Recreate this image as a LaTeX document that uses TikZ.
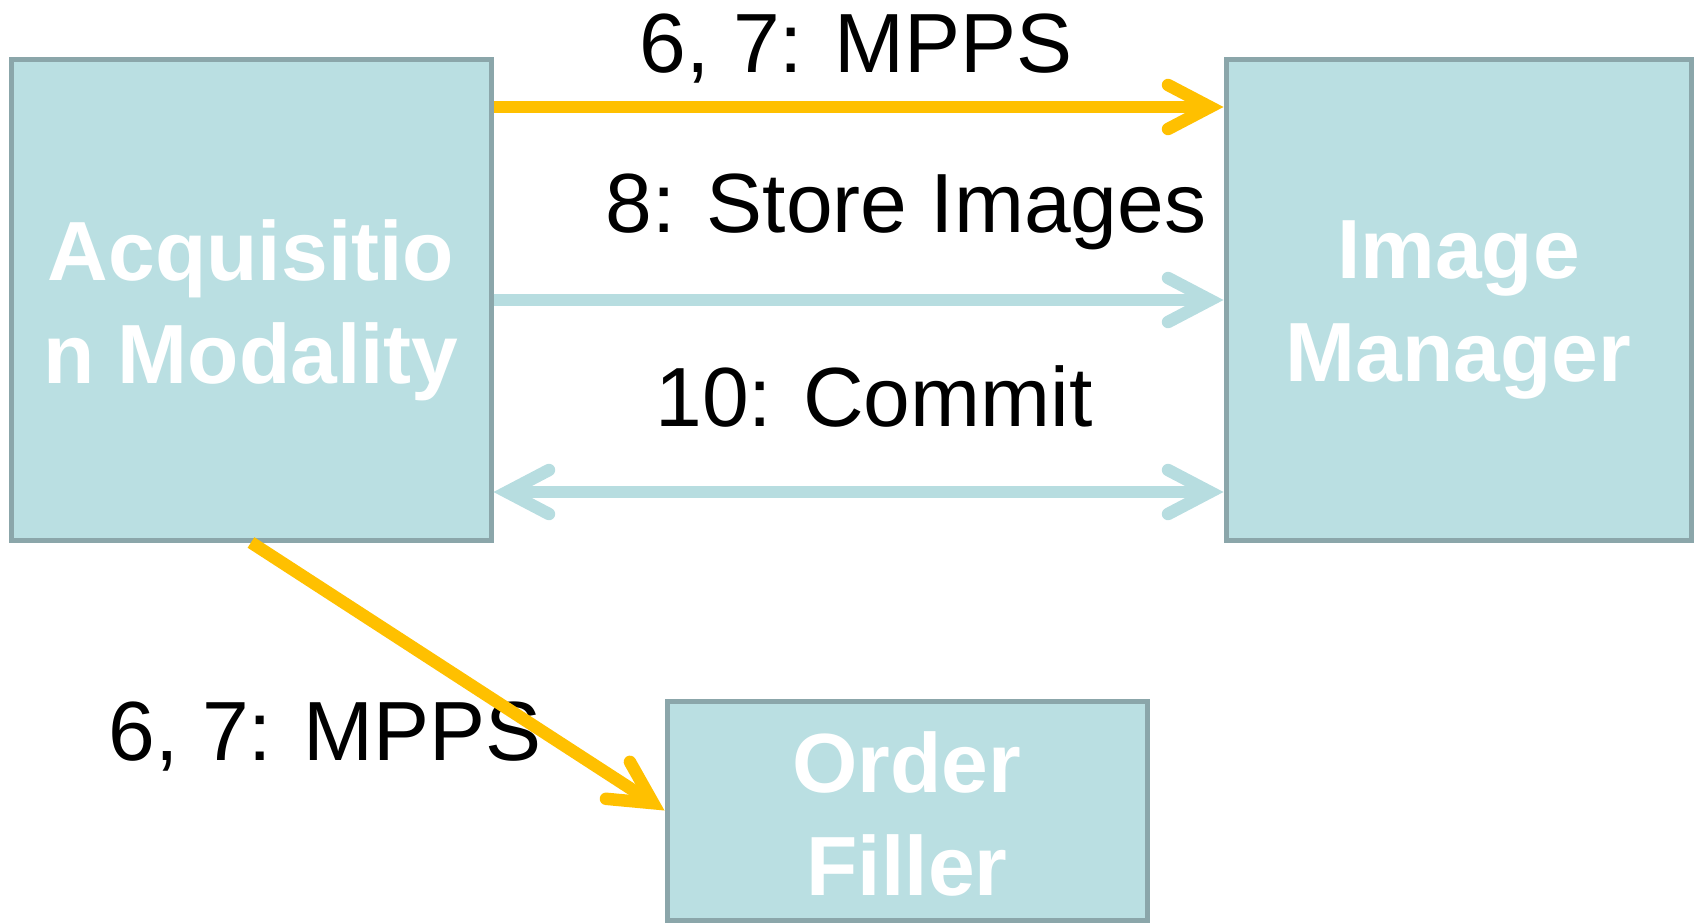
\documentclass[tikz,border=0pt]{standalone}
\usepackage{fontspec}
\setmainfont{Liberation Sans}
\usetikzlibrary{arrows.meta}
\definecolor{boxfill}{HTML}{BADFE2}
\definecolor{boxline}{HTML}{8BA6AA}
\definecolor{gold}{HTML}{FFC000}
\definecolor{flowteal}{HTML}{B7DDE0}
\begin{document}
\begin{tikzpicture}[x=1pt,y=-1pt,
  chev/.tip={Straight Barb[length=42pt,width=44pt,line cap=round,line join=miter]},
  actor/.style={draw=boxline, fill=boxfill, line width=5pt, rectangle, inner sep=0pt},
  boxtext/.style={text=white, font=\fontsize{84}{103}\selectfont\bfseries, align=center, inner sep=0pt},
  msg/.style={font=\fontsize{84}{100}\selectfont, anchor=base, inner sep=0pt, text=black},
  flow/.style={line width=12.5pt, -chev}]
\useasboundingbox (0,0) rectangle (1696,923);

% actors
\node[actor, minimum width=480pt, minimum height=480pt] (A) at (251,300) {};
\node[actor, minimum width=465pt, minimum height=480pt] (B) at (1458.5,300) {};
\node[actor, minimum width=480pt, minimum height=219pt] (C) at (907,810.5) {};

\node[boxtext] (Atext) at ([yshift=-10pt]A.center) {Acquisitio\\n Modality};
\node[boxtext] (Btext) at ([yshift=-10pt]B.center) {Image\\Manager};
\node[boxtext] (Ctext) at ([yshift=-3pt]C.center) {Order\\Filler};

% message labels
\node[msg] (mppsTop) at (856,73) {6, 7: MPPS};
\node[msg] (store) at (906,232) {8: Store Images};
\node[msg] (commit) at (874,426) {10: Commit};
\node[msg] (mppsLow) at (325,760) {6, 7: MPPS};

% messages
\draw[flow, gold] ([yshift=193pt]A.east) -- ([yshift=193pt]B.west);
\draw[flow, flowteal] (A.east) -- (B.west);
\draw[flow, flowteal, chev-chev] ([yshift=-192pt]A.east) -- ([yshift=-192pt]B.west);
\draw[flow, gold] (A.south) -- (C.west);
\end{tikzpicture}
\end{document}
